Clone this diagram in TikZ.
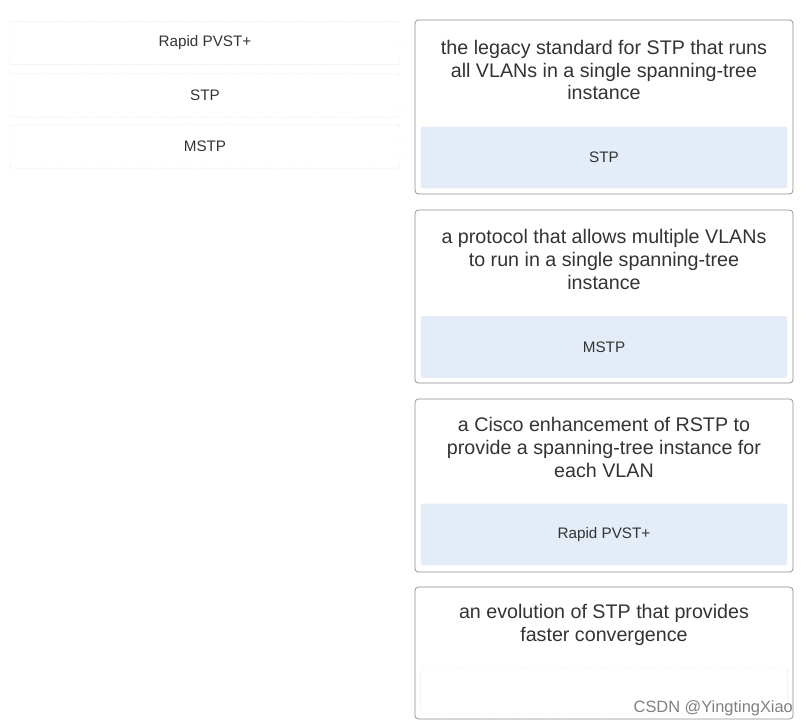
\documentclass[tikz,border=0pt]{standalone}
\usepackage{fontspec}
\setmainfont{Liberation Sans}
\usepackage{tikz}
\usetikzlibrary{positioning}
\definecolor{slotblue}{HTML}{E4ECF7}
\definecolor{cardline}{HTML}{8A8A8A}
\definecolor{chipline}{HTML}{C8C8C8}
\definecolor{inktext}{HTML}{333333}
\tikzset{
  chip/.style={draw=chipline,densely dotted,rounded corners=2pt,minimum width=11.7cm,minimum height=1.3cm,font=\fontsize{13}{15}\selectfont,text=inktext},
  card/.style={draw=cardline,rounded corners=3pt,line width=0.6pt},
  prompt/.style={align=center,font=\fontsize{16.8}{19.6}\selectfont,text=inktext},
  slot/.style={fill=slotblue,rounded corners=2pt,minimum width=11cm,minimum height=1.85cm,font=\fontsize{13}{15}\selectfont,text=inktext},
  emptyslot/.style={draw=chipline,densely dotted,rounded corners=2pt,minimum width=11cm,minimum height=1.35cm}
}
\begin{document}
\begin{tikzpicture}[x=0.03cm,y=-0.03cm]
\useasboundingbox (0,0) rectangle (804,727);
% answer chips on the left
\node[chip] (chipA) at (205,43) {Rapid PVST+};
\node[chip] (chipB) at (205,95.5) {STP};
\node[chip] (chipC) at (205,146.5) {MSTP};
% cards on the right
\draw[card] (415,20) rectangle (793,194);
\node[prompt] (descA) at (604,70) {the legacy standard for STP that runs\\all VLANs in a single spanning-tree\\instance};
\node[slot] (slotA) at (604,157.5) {STP};
\draw[card] (415,210) rectangle (793,383);
\node[prompt] (descB) at (604,259) {a protocol that allows multiple VLANs\\to run in a single spanning-tree\\instance};
\node[slot] (slotB) at (604,347) {MSTP};
\draw[card] (415,399) rectangle (793,572);
\node[prompt] (descC) at (604,447) {a Cisco enhancement of RSTP to\\provide a spanning-tree instance for\\each VLAN};
\node[slot] (slotC) at (604,534.5) {Rapid PVST+};
\draw[card] (415,587) rectangle (793,719);
\node[prompt] (descD) at (604,625) {an evolution of STP that provides\\faster convergence};
\node[emptyslot] (slotD) at (604,690.5) {};
% watermark
\node[anchor=east,font=\fontsize{14}{16}\selectfont,text=gray] (mark) at (797,708) {CSDN @YingtingXiao};
\end{tikzpicture}
\end{document}
